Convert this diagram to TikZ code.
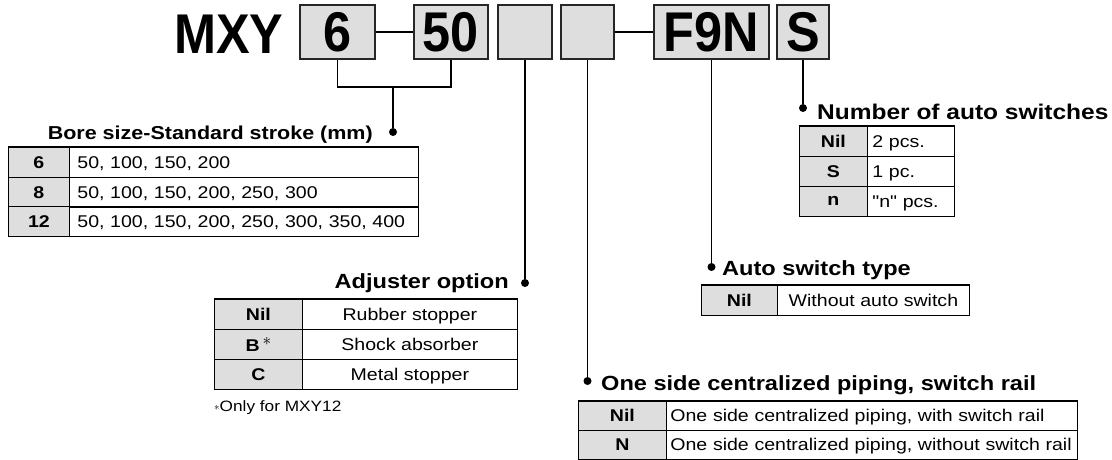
\documentclass[tikz,border=0pt]{standalone}
\usepackage{fontspec}
\setmainfont{Liberation Sans}
\newfontfamily\codefont[FakeStretch=0.9]{Liberation Sans}
\newfontfamily\tabfont[FakeStretch=1.15]{Liberation Sans}
\definecolor{cellgray}{HTML}{DEDEDE}
\tikzset{
	codebox/.style={draw=black!85, line width=1.3pt, fill=cellgray, inner sep=0pt,
		minimum height=54pt, text depth=0pt, font=\codefont\bfseries\fontsize{56}{56}\selectfont},
	keycell/.style={draw, fill=cellgray, line width=0.8pt, inner sep=0pt, anchor=north west,
		minimum height=#1, text depth=0pt, font=\tabfont\bfseries\fontsize{17}{17}\selectfont},
	keycell/.default=30pt,
	valcell/.style={draw, line width=0.8pt, inner sep=0pt, anchor=north west,
		minimum height=30pt, text depth=0pt, font=\tabfont\fontsize{17}{17}\selectfont},
	head/.style={inner sep=0pt, font=\tabfont\bfseries\fontsize{#1}{#1}\selectfont},
	head/.default=20.5,
	pin/.style={circle, fill, inner sep=0pt, minimum size=8pt},
	topline/.style={line width=1.8pt}
}
\begin{document}
\begin{tikzpicture}[x=1pt,y=-1pt]
	\useasboundingbox (0,0) rectangle (1112,459);
	% model code
	\node [inner sep=0pt, anchor=base west, font=\codefont\bfseries\fontsize{56}{56}\selectfont] (mxy) at (174,53) {MXY};
	\node [codebox, minimum width=75pt] (b6) at (337.5,32) {6};
	\node [codebox, minimum width=74pt] (b50) at (451,32) {50};
	\node [codebox, minimum width=54pt] (bx1) at (525,32) {};
	\node [codebox, minimum width=53pt] (bx2) at (587.5,32) {};
	\node [codebox, minimum width=115pt] (bF9N) at (711.5,32) {F9N};
	\node [codebox, minimum width=52pt] (bS) at (803,32) {S};
	\draw [line width=1.3pt] (b6.east) -- (b50.west);
	\draw [line width=1.3pt] (bx2.east) -- (bF9N.west);

	% pins
	\coordinate (brk) at (393,87);
	\node [pin] (dBore) at (393,132) {};
	\node [pin] (dNum) at (803,108) {};
	\node [pin] (dAdj) at (525,283) {};
	\node [pin] (dType) at (711.5,267) {};
	\node [pin] (dPipe) at (587.5,381) {};
	\draw [line width=1.3pt] (b6.south) |- (brk) -| (b50.south);
	\draw [line width=1.3pt] (brk) -- (dBore);
	\draw [line width=1.3pt] (bS.south) -- (dNum);
	\draw [line width=1.3pt] (bx1.south) -- (dAdj);
	\draw [line width=1.3pt] (bF9N.south) -- (dType);
	\draw [line width=1.3pt] (bx2.south) -- (dPipe);

	% bore size - standard stroke
	\node [head=18.7, anchor=base east] (hBore) at (373,139) {Bore size-Standard stroke (mm)};
	\node [keycell, minimum width=61pt] (k6) at (8,147) {6};
	\node [keycell, minimum width=61pt] (k8) at (8,176.7) {8};
	\node [keycell, minimum width=61pt] (k12) at (8,206.4) {12};
	\node [valcell, inner xsep=8pt, text width=333pt, align=left] (v6) at (69,147) {50, 100, 150, 200};
	\node [valcell, inner xsep=8pt, text width=333pt, align=left] (v8) at (69,176.7) {50, 100, 150, 200, 250, 300};
	\node [valcell, inner xsep=8pt, text width=333pt, align=left] (v12) at (69,206.4) {50, 100, 150, 200, 250, 300, 350, 400};
	\draw [topline] (k6.north west) -- (v6.north east);

	% number of auto switches
	\node [head=21.3, anchor=base west] (hNum) at (817,119) {Number of auto switches};
	\node [keycell, minimum width=68pt] (kNil) at (799,126) {Nil};
	\node [keycell, minimum width=68pt] (kS) at (799,156) {S};
	\node [keycell, minimum width=68pt] (kn) at (799,186) {n};
	\node [valcell, inner xsep=5pt, text width=77pt, align=left] (vNil) at (867,126) {2 pcs.};
	\node [valcell, inner xsep=5pt, text width=77pt, align=left] (vS) at (867,156) {1 pc.};
	\node [valcell, inner xsep=5pt, text width=77pt, align=left] (vn) at (867,186) {"n" pcs.};
	\draw [topline] (kNil.north west) -- (vNil.north east);

	% adjuster option
	\node [head, anchor=base east] (hAdj) at (509,288) {Adjuster option};
	\node [keycell, minimum width=88pt] (kAnil) at (214,299) {Nil};
	\node [keycell, minimum width=88pt] (kB) at (214,329) {B\,\raisebox{6pt}{$\ast$}};
	\node [keycell, minimum width=88pt] (kC) at (214,359) {C};
	\node [valcell, minimum width=215pt] (vAnil) at (302,299) {Rubber stopper};
	\node [valcell, minimum width=215pt] (vB) at (302,329) {Shock absorber};
	\node [valcell, minimum width=215pt] (vC) at (302,359) {Metal stopper};
	\draw [topline] (kAnil.north west) -- (vAnil.north east);
	\node [inner sep=0pt, anchor=base west, font=\tabfont\fontsize{15}{15}\selectfont] (note) at (214,411) {\raisebox{1pt}{$\scriptstyle\ast$}Only for MXY12};

	% auto switch type
	\node [head, anchor=base west] (hType) at (722,275) {Auto switch type};
	\node [keycell, minimum width=76pt] (kTnil) at (701,285) {Nil};
	\node [valcell, minimum width=192pt] (vTnil) at (777,285) {Without auto switch};
	\draw [topline] (kTnil.north west) -- (vTnil.north east);

	% one side centralized piping
	\node [head, anchor=base west] (hPipe) at (601,390) {One side centralized piping, switch rail};
	\node [keycell=29pt, minimum width=88pt] (kPnil) at (578,400.5) {Nil};
	\node [keycell=29pt, minimum width=88pt] (kN) at (578,429.5) {N};
	\node [valcell, minimum height=29pt, inner xsep=4pt, text width=403pt, align=left] (vPnil) at (666,400.5) {One side centralized piping, with switch rail};
	\node [valcell, minimum height=29pt, inner xsep=4pt, text width=403pt, align=left] (vN) at (666,429.5) {One side centralized piping, without switch rail};
	\draw [topline] (kPnil.north west) -- (vPnil.north east);
\end{tikzpicture}
\end{document}
